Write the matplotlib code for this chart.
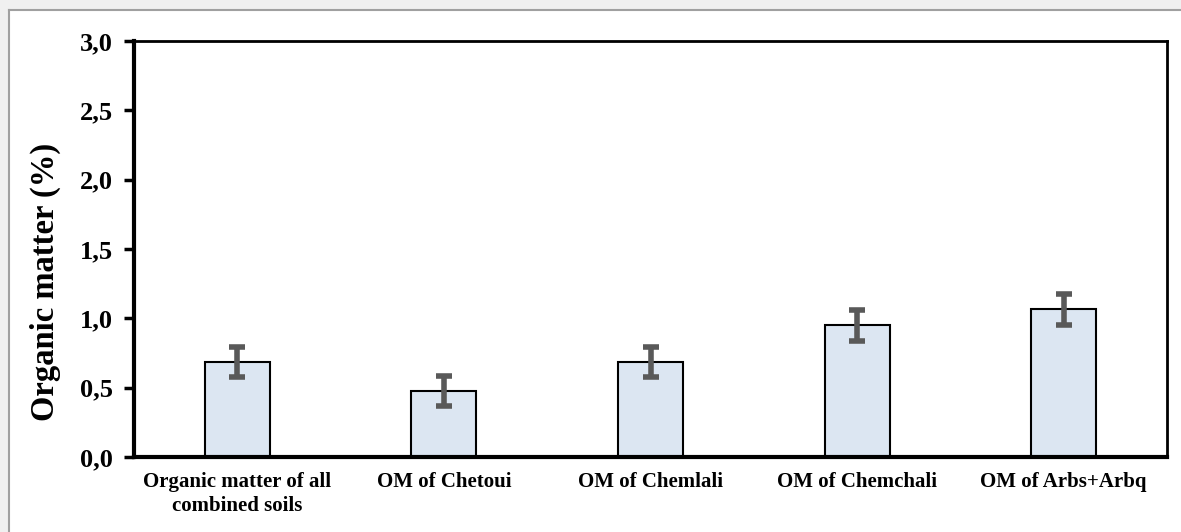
import matplotlib
matplotlib.use("Agg")
import matplotlib.pyplot as plt
from matplotlib.patches import Rectangle
from matplotlib.lines import Line2D
from matplotlib.ticker import FuncFormatter, MultipleLocator

categories = ["Organic matter of all\ncombined soils", "OM of Chetoui", "OM of Chemlali",
              "OM of Chemchali", "OM of Arbs+Arbq"]
values = [0.685, 0.475, 0.685, 0.95, 1.065]
errors = [0.11, 0.11, 0.11, 0.11, 0.11]

plt.rcParams['font.family'] = ['Liberation Serif', 'DejaVu Serif']
plt.rcParams['font.weight'] = 'bold'

W, H = 1181, 532
fig = plt.figure(figsize=(W / 100, H / 100), dpi=100)
fig.patch.set_facecolor('white')

# outer light-grey frame and grey border lines
fig.add_artist(Rectangle((0, 0), 9 / W, 1, transform=fig.transFigure, facecolor='#f0f0f0', edgecolor='none', zorder=0))
fig.add_artist(Rectangle((0, 1 - 9 / H), 1, 9 / H, transform=fig.transFigure, facecolor='#f0f0f0', edgecolor='none', zorder=0))
fig.add_artist(Line2D([9.5 / W, 9.5 / W], [0, 1 - 9.5 / H], transform=fig.transFigure, color='#a0a0a0', lw=1.5))
fig.add_artist(Line2D([9.5 / W, 1], [1 - 9.5 / H, 1 - 9.5 / H], transform=fig.transFigure, color='#a0a0a0', lw=1.5))

left, right, top, bottom = 134, 1167, 41, 457
ax = fig.add_axes([left / W, 1 - bottom / H, (right - left) / W, (bottom - top) / H])

x = list(range(len(categories)))
ax.bar(x, values, width=0.315, color='#dce6f2', edgecolor='black', linewidth=1.5, zorder=2)
ax.errorbar(x, values, yerr=errors, fmt='none', ecolor='#595959', elinewidth=4,
            capsize=6, capthick=4, zorder=3)

ax.set_xlim(-0.5, len(categories) - 0.5)
ax.set_ylim(0, 3.0)
ax.yaxis.set_major_locator(MultipleLocator(0.5))
ax.yaxis.set_major_formatter(FuncFormatter(lambda v, p: f"{v:.1f}".replace('.', ',')))
ax.set_xticks(x)
ax.set_xticklabels(categories, fontsize=15, fontweight='bold', linespacing=1.25)
ax.tick_params(axis='x', length=0, pad=11)
ax.tick_params(axis='y', length=7, width=2.5, direction='out', labelsize=19, pad=8)
for lab in ax.get_yticklabels():
    lab.set_fontweight('bold')

ax.spines['left'].set_linewidth(3)
ax.spines['bottom'].set_linewidth(3)
ax.spines['top'].set_linewidth(2)
ax.spines['right'].set_linewidth(2)

ax.set_ylabel("Organic matter (%)", fontsize=23.5, fontweight='bold')
ax.yaxis.set_label_coords((61 - left) / (right - left), (bottom - 282) / (bottom - top))

fig.savefig("out.png", dpi=100)
